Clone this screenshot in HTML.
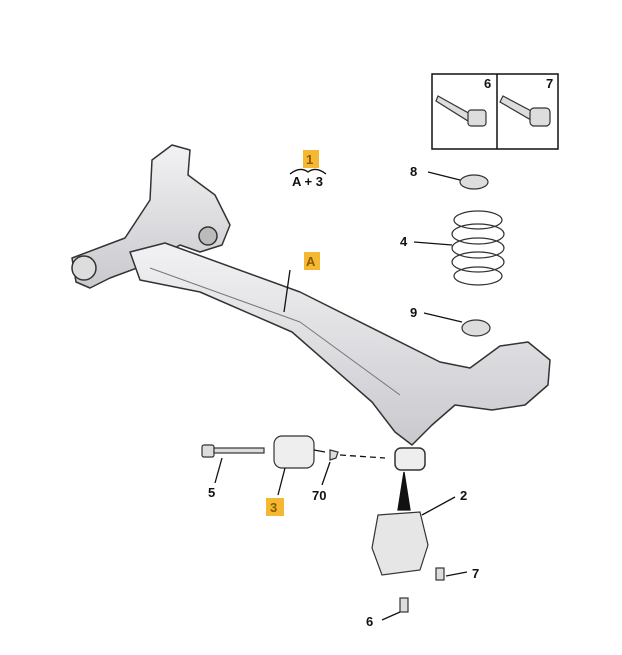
<!DOCTYPE html>
<html><head><style>
html,body{margin:0;padding:0;background:#fff;width:622px;height:655px;overflow:hidden}
svg{display:block}
text{font-family:"Liberation Sans",sans-serif;font-weight:bold;font-size:13px;fill:#111}
</style></head><body>
<svg width="622" height="655" viewBox="0 0 622 655">
<defs>
<linearGradient id="g" x1="0" y1="0" x2="0" y2="1"><stop offset="0" stop-color="#f2f2f4"/><stop offset="1" stop-color="#c9c9ce"/></linearGradient>
</defs>
<g stroke="#333" stroke-width="1.5" fill="url(#g)" stroke-linejoin="round">
<!-- left trailing arm -->
<path d="M72,258 L125,238 L150,200 L152,160 L172,145 L190,150 L188,175 L215,195 L230,225 L222,245 L200,252 L180,245 L145,265 L110,278 L90,288 L76,282 Z"/>
<circle cx="84" cy="268" r="12" fill="#ddd"/>
<circle cx="208" cy="236" r="9" fill="#bbb"/>
<!-- beam -->
<path d="M130,252 L165,243 L300,292 L440,362 L470,368 L500,346 L528,342 L550,360 L548,385 L525,405 L492,410 L455,405 L432,425 L412,445 L395,432 L372,402 L292,332 L200,292 L140,280 Z"/>
<path d="M150,268 L300,322 L400,395" fill="none" stroke="#777" stroke-width="1"/>
<rect x="395" y="448" width="30" height="22" rx="6" fill="#eee"/>
</g>
<!-- box -->
<rect x="432" y="74" width="126" height="75" fill="#fff" stroke="#111" stroke-width="1.5"/>
<line x1="497" y1="74" x2="497" y2="149" stroke="#111" stroke-width="1.5"/>
<text x="484" y="88">6</text><text x="546" y="88">7</text>
<g stroke="#333" fill="#ddd" stroke-width="1.2">
<path d="M438,96 L472,115 L468,121 L436,101 Z"/><rect x="468" y="110" width="18" height="16" rx="3"/>
<path d="M503,96 L535,113 L531,120 L500,102 Z"/><rect x="530" y="108" width="20" height="18" rx="4"/>
<ellipse cx="474" cy="182" rx="14" ry="7"/>
<ellipse cx="476" cy="328" rx="14" ry="8"/>
<ellipse cx="478" cy="262" rx="26" ry="10" fill="none"/>
<ellipse cx="478" cy="248" rx="26" ry="10" fill="none"/>
<ellipse cx="478" cy="234" rx="26" ry="10" fill="none"/>
<ellipse cx="478" cy="220" rx="24" ry="9" fill="none"/>
<ellipse cx="478" cy="276" rx="24" ry="9" fill="none"/>
<rect x="202" y="445" width="12" height="12" rx="2"/>
<rect x="214" y="448" width="50" height="5"/>
<rect x="274" y="436" width="40" height="32" rx="8" fill="#eee"/>
<path d="M330,450 L338,452 L336,458 L330,460 Z"/>
<path d="M378,515 L420,512 L428,545 L420,570 L382,575 L372,548 Z" fill="#e6e6e6"/>
<rect x="436" y="568" width="8" height="12"/>
<rect x="400" y="598" width="8" height="14"/>
</g>
<g stroke="#111" stroke-width="1.3" fill="none">
<line x1="314" y1="450" x2="325" y2="452"/>
<line x1="340" y1="455" x2="385" y2="458" stroke-dasharray="6,4"/>
<path d="M404,472 L398,510 L410,510 Z" fill="#111"/>
<line x1="290" y1="270" x2="284" y2="312"/>
<line x1="428" y1="172" x2="460" y2="180"/>
<line x1="414" y1="242" x2="452" y2="245"/>
<line x1="424" y1="313" x2="462" y2="322"/>
<line x1="215" y1="483" x2="222" y2="458"/>
<line x1="278" y1="495" x2="285" y2="468"/>
<line x1="322" y1="485" x2="330" y2="462"/>
<line x1="455" y1="497" x2="422" y2="515"/>
<line x1="467" y1="572" x2="446" y2="576"/>
<line x1="382" y1="620" x2="400" y2="612"/>
<path d="M290,174 Q300,166 308,172 Q316,166 326,174"/>
</g>
<rect x="303" y="150" width="16" height="18" fill="#f5b833"/><text x="306" y="164" style="fill:#8a5a00">1</text>
<text x="292" y="186">A + 3</text>
<rect x="304" y="252" width="16" height="18" fill="#f5b833"/><text x="306" y="266" style="fill:#8a5a00">A</text>
<rect x="266" y="498" width="18" height="18" fill="#f5b833"/><text x="270" y="512" style="fill:#8a5a00">3</text>
<text x="410" y="176">8</text><text x="400" y="246">4</text><text x="410" y="317">9</text>
<text x="208" y="497">5</text><text x="312" y="500">70</text>
<text x="460" y="500">2</text><text x="472" y="578">7</text><text x="366" y="626">6</text>
</svg>
</body></html>
